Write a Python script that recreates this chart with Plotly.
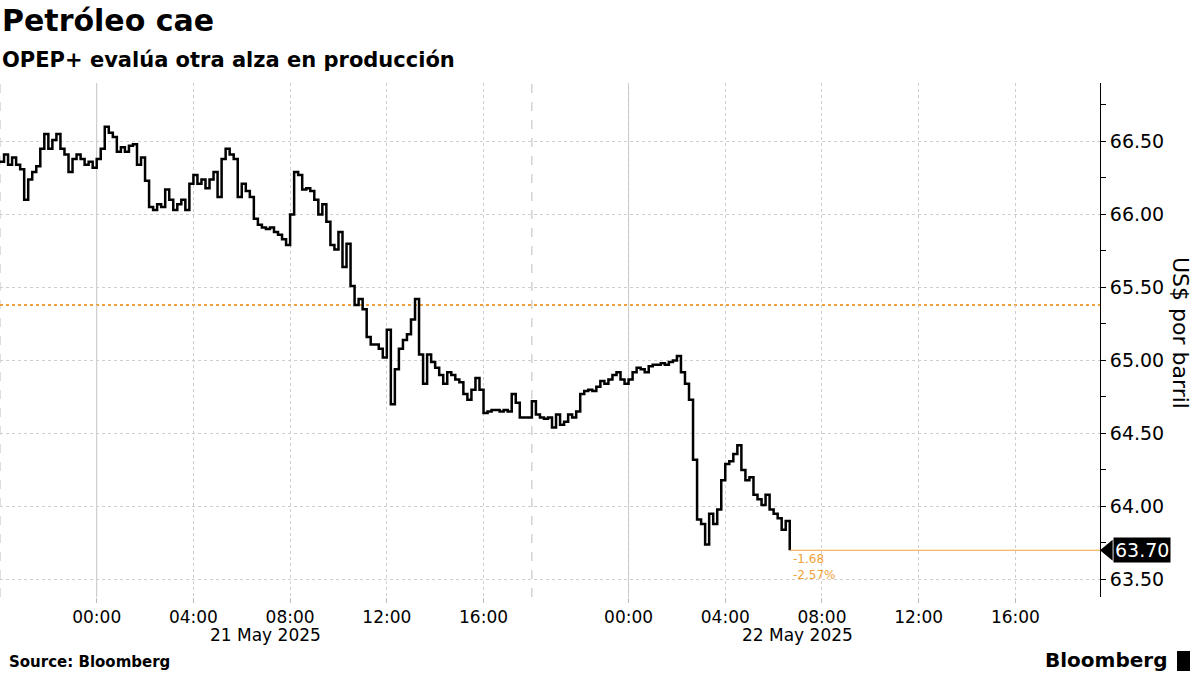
import pandas as pd
import plotly.graph_objects as go

# ---------------- data ----------------
FREQ = "10min"
S1_START = "2025-05-20 20:00"   # first trading session start
S2_START = "2025-05-21 20:00"   # second trading session start
X_END = "2025-05-22 21:30"
PREV_CLOSE = 65.38

s1_prices = [
    66.36, 66.41, 66.34, 66.39, 66.34, 66.31, 66.10, 66.24, 66.29, 66.33,
    66.45, 66.55, 66.45, 66.51, 66.55, 66.45, 66.41, 66.29, 66.38, 66.41,
    66.38, 66.34, 66.36, 66.32, 66.38, 66.45, 66.60, 66.56, 66.53, 66.43,
    66.46, 66.43, 66.47, 66.48, 66.34, 66.39, 66.23, 66.05, 66.03, 66.07,
    66.05, 66.17, 66.10, 66.03, 66.07, 66.10, 66.03, 66.21, 66.27, 66.21,
    66.24, 66.18, 66.24, 66.29, 66.12, 66.38, 66.45, 66.41, 66.38, 66.12,
    66.21, 66.16, 66.12, 65.97, 65.93, 65.91, 65.90, 65.91, 65.88, 65.86,
    65.83, 65.79, 66.00, 66.29, 66.27, 66.17, 66.18, 66.16, 66.10, 66.00,
    66.07, 65.95, 65.79, 65.76, 65.88, 65.64, 65.80, 65.51, 65.38, 65.42,
    65.35, 65.16, 65.11, 65.11, 65.08, 65.02, 65.21, 64.70, 64.94, 65.08,
    65.14, 65.18, 65.28, 65.42, 65.04, 64.84, 65.04, 64.99, 64.95, 64.90,
    64.84, 64.92, 64.90, 64.87, 64.85, 64.77, 64.73, 64.80, 64.88, 64.80,
    64.64, 64.65, 64.66, 64.66, 64.65, 64.66, 64.65, 64.77, 64.71, 64.61,
    64.61, 64.61,
]
s2_prices = [
    64.72, 64.63, 64.61, 64.60, 64.61, 64.54, 64.63, 64.56, 64.58, 64.63,
    64.61, 64.65, 64.77, 64.79, 64.80, 64.79, 64.82, 64.86, 64.84, 64.87,
    64.90, 64.92, 64.87, 64.84, 64.87, 64.92, 64.95, 64.94, 64.92, 64.96,
    64.97, 64.97, 64.98, 64.97, 64.99, 65.00, 65.03, 64.92, 64.84, 64.73,
    64.32, 63.91, 63.88, 63.74, 63.95, 63.88, 63.98, 64.18, 64.29, 64.31,
    64.36, 64.42, 64.25, 64.18, 64.20, 64.08, 64.05, 64.01, 64.08, 63.98,
    63.95, 63.92, 63.84, 63.90, 63.70,
]

tick_vals = ["2025-05-21 00:00", "2025-05-21 04:00", "2025-05-21 08:00",
             "2025-05-21 12:00", "2025-05-21 16:00",
             "2025-05-22 00:00", "2025-05-22 04:00", "2025-05-22 08:00",
             "2025-05-22 12:00", "2025-05-22 16:00"]
tick_text = ["00:00", "04:00", "08:00", "12:00", "16:00",
             "00:00", "04:00", "08:00", "12:00", "16:00"]
midnights = ["2025-05-21 00:00", "2025-05-22 00:00"]
date_labels = ["21 May 2025", "22 May 2025"]
date_label_pos = ["2025-05-21 07:00", "2025-05-22 07:00"]
session_starts = [S1_START, S2_START]
y_ticks = [63.5, 64.0, 64.5, 65.0, 65.5, 66.0, 66.5]

# ---------------- build ----------------
t1 = pd.date_range(S1_START, periods=len(s1_prices), freq=FREQ)
t2 = pd.date_range(S2_START, periods=len(s2_prices), freq=FREQ)
times = list(t1) + list(t2)
prices = s1_prices + s2_prices
last_t, last_p = times[-1], prices[-1]
chg = last_p - PREV_CLOSE
pct = chg / PREV_CLOSE * 100

FONT = "DejaVu Sans"
ORANGE = "#f2a23a"

fig = go.Figure()
fig.add_trace(go.Scatter(x=times, y=prices, mode="lines", line_shape="hv",
                         line=dict(color="#000000", width=2.5), hoverinfo="skip",
                         showlegend=False))

shapes = []
for m in midnights:
    shapes.append(dict(type="line", xref="x", yref="paper", x0=m, x1=m, y0=0, y1=1,
                       line=dict(color="#c4c4c4", width=1), layer="between"))
for s in session_starts:
    shapes.append(dict(type="line", xref="x", yref="paper", x0=s, x1=s, y0=0, y1=1,
                       line=dict(color="#bdbdbd", width=1, dash="dash"), layer="between"))
shapes.append(dict(type="line", xref="paper", yref="y", x0=0, x1=1,
                   y0=PREV_CLOSE, y1=PREV_CLOSE,
                   line=dict(color=ORANGE, width=2, dash="dot"), layer="between"))
shapes.append(dict(type="line", xref="x", yref="y", x0=last_t, x1=X_END,
                   y0=last_p, y1=last_p, line=dict(color=ORANGE, width=1.2)))
half = 10.5 / 146
shapes.append(dict(type="path", xref="paper", yref="y",
                   path=f"M 1.0,{last_p} L 1.0115,{last_p + half} L 1.0115,{last_p - half} Z",
                   fillcolor="#000000", line=dict(width=0)))
# bloomberg icon
shapes.append(dict(type="rect", xref="paper", yref="paper",
                   x0=1177 / 1100, x1=1190 / 1100, y0=-74 / 514, y1=-54 / 514,
                   fillcolor="#000000", line=dict(width=0)))

annotations = [
    dict(text="<b>Petróleo cae</b>", xref="paper", yref="paper", x=0, y=1,
         xanchor="left", yanchor="middle", yshift=63, showarrow=False,
         font=dict(family=FONT, size=30, color="#000")),
    dict(text="<b>OPEP+ evalúa otra alza en producción</b>", xref="paper", yref="paper",
         x=0, y=1, xanchor="left", yanchor="middle", yshift=23, showarrow=False,
         font=dict(family=FONT, size=21, color="#000")),
    dict(text="<b>Source: Bloomberg</b>", xref="paper", yref="paper", x=0.006, y=0,
         xanchor="left", yanchor="middle", yshift=-65, showarrow=False,
         font=dict(family=FONT, size=15, color="#000")),
    dict(text="<b>Bloomberg</b>", xref="paper", yref="paper", x=1169 / 1100, y=0,
         xanchor="right", yanchor="middle", yshift=-63, showarrow=False,
         font=dict(family=FONT, size=20, color="#000")),
    dict(text="US$ por barril", xref="paper", yref="paper", x=1181 / 1100, y=(597 - 333) / 514,
         xanchor="center", yanchor="middle", textangle=90, showarrow=False,
         font=dict(family=FONT, size=22, color="#000")),
    dict(text=f"{last_p:.2f}", xref="paper", yref="y", x=1.0115, y=last_p,
         xanchor="left", yanchor="middle", showarrow=False, bgcolor="#000000",
         borderpad=1, font=dict(family=FONT, size=19, color="#ffffff")),
    dict(text=f"{chg:.2f}", xref="x", yref="y", x=last_t, y=last_p,
         xanchor="left", yanchor="middle", yshift=-9, xshift=1, showarrow=False,
         font=dict(family=FONT, size=12, color=ORANGE)),
    dict(text=f"{pct:.2f}%", xref="x", yref="y", x=last_t, y=last_p,
         xanchor="left", yanchor="middle", yshift=-25, xshift=1, showarrow=False,
         font=dict(family=FONT, size=12, color=ORANGE)),
]
for lbl, pos in zip(date_labels, date_label_pos):
    annotations.append(dict(text=lbl, xref="x", yref="paper", x=pos, y=0,
                            xanchor="center", yanchor="middle", yshift=-38,
                            showarrow=False, font=dict(family=FONT, size=17, color="#000")))

fig.update_layout(
    width=1200, height=675,
    margin=dict(l=0, r=100, t=83, b=78),
    paper_bgcolor="#ffffff", plot_bgcolor="#ffffff",
    font=dict(family=FONT, color="#000"),
    shapes=shapes, annotations=annotations, showlegend=False,
    xaxis=dict(
        type="date", range=[S1_START, X_END],
        rangebreaks=[dict(bounds=[18, 20], pattern="hour")],
        tickmode="array", tickvals=tick_vals, ticktext=tick_text,
        ticks="outside", ticklen=5, tickcolor="#bbbbbb",
        tickfont=dict(family=FONT, size=17, color="#000"),
        showgrid=True, gridcolor="#cfcfcf", griddash="dot", gridwidth=1,
        showline=False, zeroline=False, automargin=False,
    ),
    yaxis=dict(
        side="right", range=[63.38, 66.90],
        tickmode="array", tickvals=y_ticks, tickformat=".2f",
        ticks="outside", ticklen=5, tickcolor="#000",
        tickfont=dict(family=FONT, size=19, color="#000"),
        minor=dict(dtick=0.25, tick0=63.5, ticks="outside", ticklen=5, tickcolor="#000", showgrid=False),
        showgrid=True, gridcolor="#cfcfcf", griddash="dot", gridwidth=1,
        showline=True, linecolor="#000", linewidth=1, zeroline=False, automargin=False,
    ),
)

fig.write_html("out.html", config={"displayModeBar": False},
               post_script="document.body.style.margin='0';document.body.style.overflow='hidden';")
